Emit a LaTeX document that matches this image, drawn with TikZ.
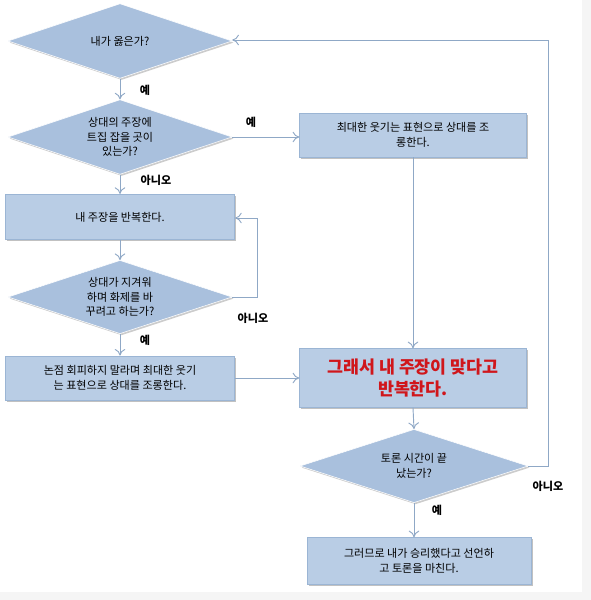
\documentclass[tikz,border=0pt]{standalone}
\usepackage{fontspec}
\setmainfont{Noto Sans CJK KR}
\usetikzlibrary{shapes.geometric,shadows,arrows.meta}
\definecolor{boxfill}{HTML}{B9CDE5}
\definecolor{boxline}{HTML}{9BB5D4}
\definecolor{dfill}{HTML}{A9C0DD}
\definecolor{conn}{HTML}{8FA8C6}
\definecolor{redtxt}{HTML}{D0161B}
\tikzset{
  pbox/.style={rectangle, draw=boxline, fill=boxfill, line width=0.6pt, inner sep=2pt,
    align=center, font=\fontsize{8.3}{11}\selectfont,
    drop shadow={shadow xshift=1.2pt, shadow yshift=-1.2pt, fill=gray!60, opacity=0.8}},
  dbox/.style={diamond, draw=white, fill=dfill, line width=0.4pt, inner sep=0pt, shape aspect=3,
    align=center, font=\fontsize{8.3}{11}\selectfont,
    drop shadow={shadow xshift=1.2pt, shadow yshift=-1.2pt, fill=gray!50, opacity=0.8}},
  conn/.style={draw=conn, line width=0.7pt, -{To[length=5pt,width=8pt]}},
  lbl/.style={font=\bfseries\fontsize{8.3}{10}\selectfont, inner sep=0pt},
}
\begin{document}
\begin{tikzpicture}[x=0.75pt,y=-0.75pt]
\useasboundingbox (0,0) rectangle (591,600);
\fill[gray!8] (582,0) rectangle (591,600);
\fill[gray!8] (0,592) rectangle (591,600);
% nodes
\node[dbox, minimum width=168pt, minimum height=56pt] (d1) at (120,41) {내가 옳은가?};
\node[dbox, minimum width=168pt, minimum height=56pt] (d2) at (120,137) {상대의 주장에\\트집 잡을 곳이\\있는가?};
\node[pbox, minimum width=170pt, minimum height=33pt, align=center] (r1) at (413,135) {최대한 웃기는 표현으로 상대를 조\\롱한다.};
\node[pbox, minimum width=172pt, minimum height=34pt] (r2) at (120,217) {내 주장을 반복한다.};
\node[dbox, minimum width=168pt, minimum height=55pt] (d3) at (120,297) {상대가 지겨워\\하며 화제를 바\\꾸려고 하는가?};
\node[pbox, minimum width=172pt, minimum height=33pt] (r3) at (120,378) {논점 회피하지 말라며 최대한 웃기\\는 표현으로 상대를 조롱한다.};
\node[pbox, minimum width=170pt, minimum height=44pt, text=redtxt, font=\bfseries\fontsize{13}{16}\selectfont] (r4) at (413,378) {그래서 내 주장이 맞다고\\반복한다.};
\node[dbox, minimum width=171pt, minimum height=55pt] (d4) at (414,466) {토론 시간이 끝\\났는가?};
\node[pbox, minimum width=168pt, minimum height=35pt] (r5) at (419,561) {그러므로 내가 승리했다고 선언하\\고 토론을 마친다.};
% labels
\node[lbl] (l1) at (145,90) {예};
\node[lbl] (l2) at (251,122) {예};
\node[lbl] (l3) at (156,180) {아니오};
\node[lbl] (l4) at (253,318) {아니오};
\node[lbl] (l5) at (145,340) {예};
\node[lbl] (l6) at (548,486) {아니오};
\node[lbl] (l7) at (437,510) {예};
% connectors
\coordinate (c1) at (257,297);
\coordinate (c2) at (257,218);
\coordinate (c3) at (548,466);
\coordinate (c4) at (548,40);
\draw[conn] (d1.south) -- (d2.north);
\draw[conn] (d2.east) -- (r1.west|-d2.east);
\draw[conn] (d2.south) -- (r2.north);
\draw[conn] (r2.south) -- (d3.north);
\draw[conn] (d3.east) -- (c1) -- (c2) -- (r2.east|-c2);
\draw[conn] (d3.south) -- (r3.north);
\draw[conn] (r3.east) -- (r4.west|-r3.east);
\draw[conn] (r1.south) -- (r4.north);
\draw[conn] (r4.south) -- (d4.north);
\draw[conn] (d4.east) -- (c3) -- (c4) -- (d1.east|-c4);
\draw[conn] (d4.south) -- (r5.north-|d4.south);
\end{tikzpicture}
\end{document}
